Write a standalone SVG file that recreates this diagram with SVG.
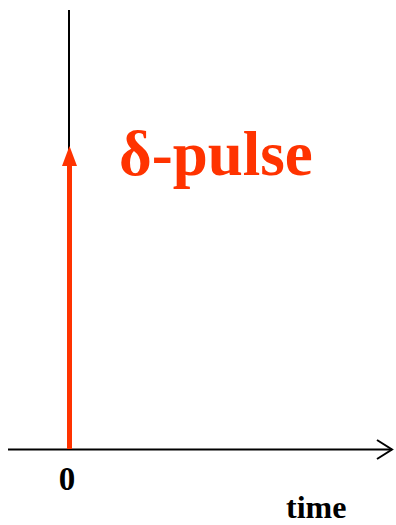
<svg xmlns="http://www.w3.org/2000/svg" width="396" height="525" viewBox="0 0 396 525">
<style>
.ax{stroke:#000;stroke-width:2;fill:none}
.lbl{font-family:"Liberation Serif","Times New Roman",serif;font-weight:bold;fill:#000}
.red{font-family:"Liberation Serif","Times New Roman",serif;font-weight:bold;fill:#FF3300}
</style>
<rect width="396" height="525" fill="#fff"/>
<g id="connectors">
<line class="ax" x1="69" y1="10" x2="69" y2="450"/>
<line class="ax" x1="8" y1="449.5" x2="392" y2="449.5"/>
<polyline class="ax" points="377,440 392,449.5 377,459"/>
</g>
<g id="pulse">
<line x1="69.5" y1="162" x2="69.5" y2="449" stroke="#FF3300" stroke-width="5"/>
<polygon points="69.5,146 62,166 77,166" fill="#FF3300"/>
</g>
<g id="pulse-label">
<text class="red" x="119" y="175" font-size="63">δ-pulse</text>
</g>
<g id="zero-label"><text class="lbl" x="67" y="490" font-size="33" text-anchor="middle">0</text></g>
<g id="time-label"><text class="lbl" x="286" y="518" font-size="32">time</text></g>
</svg>
